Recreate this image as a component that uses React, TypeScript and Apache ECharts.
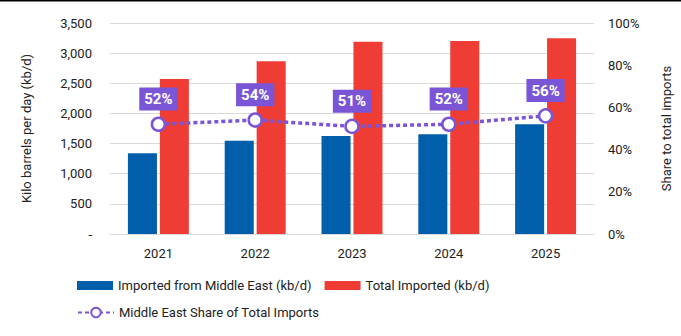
import React, { useEffect, useRef } from "react";
import * as echarts from "echarts";

const categories = ["2021", "2022", "2023", "2024", "2025"];
const middleEast = [1340, 1545, 1625, 1655, 1820];
const totalImported = [2570, 2865, 3190, 3200, 3245];
const sharePct = [52, 54, 51, 52, 56];

const FONT = "Roboto";
const BLUE = "#005EAA";
const RED = "#EF3D36";
const PURPLE = "#7A55D6";

export default function App() {
  const ref = useRef<HTMLDivElement>(null);
  useEffect(() => {
    if (!ref.current) return;
    const chart = echarts.init(ref.current, undefined, { renderer: "svg" });
    chart.setOption({
      animation: false,
      textStyle: { fontFamily: FONT },
      graphic: [
        { type: "rect", shape: { x: 0, y: 0, width: 681, height: 1.5 }, style: { fill: "#000" } },
      ],
      grid: { left: 110, right: 83, top: 23, bottom: 102 },
      legend: [
        {
          data: ["Imported from Middle East (kb/d)", "Total Imported (kb/d)"],
          left: 72,
          top: 274,
          itemWidth: 36,
          itemHeight: 9,
          itemGap: 13,
          icon: "rect",
          textStyle: { fontFamily: FONT, fontSize: 13, color: "#222" },
        },
        {
          data: ["Middle East Share of Total Imports"],
          left: 72,
          top: 301,
          itemWidth: 36,
          itemHeight: 12,
          textStyle: { fontFamily: FONT, fontSize: 13, color: "#222" },
        },
      ],
      xAxis: {
        type: "category",
        data: categories,
        axisTick: { show: false },
        axisLine: { lineStyle: { color: "#d9d9d9" } },
        axisLabel: { fontFamily: FONT, fontSize: 13, color: "#222", margin: 13 },
      },
      yAxis: [
        {
          type: "value",
          min: 0,
          max: 3500,
          interval: 500,
          name: "Kilo barrels per day (kb/d)",
          nameLocation: "middle",
          nameGap: 77,
          nameTextStyle: { fontFamily: FONT, fontSize: 13, color: "#222" },
          axisLine: { show: false },
          axisTick: { show: false },
          splitLine: { lineStyle: { color: "#d9d9d9" } },
          axisLabel: {
            fontFamily: FONT,
            fontSize: 13,
            color: "#222",
            margin: 18,
            formatter: (v: number) => (v === 0 ? "-" : v.toLocaleString("en-US")),
          },
        },
        {
          type: "value",
          min: 0,
          max: 100,
          interval: 20,
          name: "Share to total imports",
          nameLocation: "middle",
          nameGap: 66,
          nameTextStyle: { fontFamily: FONT, fontSize: 13, color: "#222" },
          axisLine: { show: false },
          axisTick: { show: false },
          splitLine: { show: false },
          axisLabel: { fontFamily: FONT, fontSize: 13, color: "#222", margin: 14, formatter: "{value}%" },
        },
      ],
      series: [
        {
          name: "Imported from Middle East (kb/d)",
          type: "bar",
          data: middleEast,
          barWidth: "30%",
          barGap: "10%",
          itemStyle: { color: BLUE },
        },
        {
          name: "Total Imported (kb/d)",
          type: "bar",
          data: totalImported,
          barWidth: "30%",
          barGap: "10%",
          itemStyle: { color: RED },
        },
        {
          name: "Middle East Share of Total Imports",
          type: "line",
          yAxisIndex: 1,
          data: sharePct,
          symbol: "circle",
          symbolSize: 13,
          itemStyle: { color: "#fff", borderColor: PURPLE, borderWidth: 2.5 },
          lineStyle: { color: PURPLE, width: 3.5, type: [4, 3] },
          label: {
            show: true,
            position: "top",
            distance: 6,
            formatter: "{c}%",
            backgroundColor: PURPLE,
            color: "#fff",
            fontFamily: FONT,
            fontWeight: "bold",
            fontSize: 15,
            padding: [4, 5],
          },
          z: 5,
        },
      ],
    });
    return () => chart.dispose();
  }, []);
  return (
    <div
      ref={ref}
      style={{ position: "fixed", left: 0, top: 0, width: 681, height: 336, background: "#fff" }}
    />
  );
}
